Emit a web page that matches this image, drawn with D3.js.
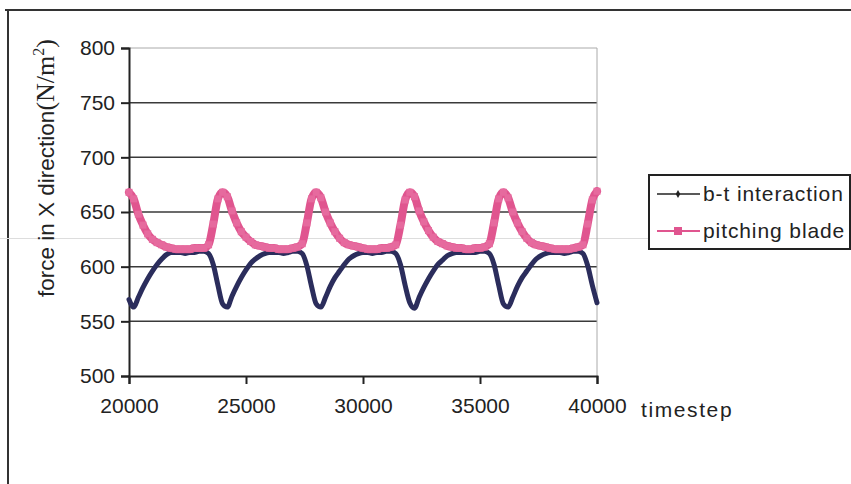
<!DOCTYPE html>
<html><head><meta charset="utf-8">
<script src="https://cdn.jsdelivr.net/npm/d3@7"></script>
<style>html,body{margin:0;padding:0;background:#fff;}svg{display:block;}</style>
</head><body>
<svg id="c" width="851" height="484"></svg>
<script>
const timesteps = [20000,20200,20400,20600,20800,21000,21200,21400,21600,21800,
22000,22200,22400,22600,22800,23000,23200,23400,23600,23800,
24000,24200,24400,24600,24800,25000,25200,25400,25600,25800,
26000,26200,26400,26600,26800,27000,27200,27400,27600,27800,
28000,28200,28400,28600,28800,29000,29200,29400,29600,29800,
30000,30200,30400,30600,30800,31000,31200,31400,31600,31800,
32000,32200,32400,32600,32800,33000,33200,33400,33600,33800,
34000,34200,34400,34600,34800,35000,35200,35400,35600,35800,
36000,36200,36400,36600,36800,37000,37200,37400,37600,37800,
38000,38200,38400,38600,38800,39000,39200,39400,39600,39800,40000];

const btInteraction = [570,563,572,581,589,596,602,607,611,613,613,613,612,613,613,614,614,612,602,583,
566,563,573,582,590,597,603,607,610,612,613,613,613,612,613,614,614,612,601,582,
566,563,572,582,590,596,602,607,610,612,613,613,612,613,613,614,614,612,602,583,
567,562,572,581,589,596,602,606,610,612,613,613,613,613,613,614,614,612,602,583,
566,563,572,582,590,596,602,607,610,612,613,613,613,612,613,614,614,612,601,583,
567];

const pitchingBlade = [668,662,648,638,630,625,622,620,618,617,616,616,616,616,617,617,617,620,639,662,
668,664,651,640,632,627,623,620,619,618,617,617,616,616,616,617,618,621,640,662,
668,663,650,640,632,626,622,620,619,618,617,616,616,616,617,617,618,620,638,661,
668,664,651,641,633,627,623,621,619,618,617,617,616,616,617,617,618,621,640,662,
668,663,650,640,632,626,622,620,619,618,617,616,616,616,616,617,618,620,639,661,
669];

const yTicks = [500,550,600,650,700,750,800];
const xTicks = [20000,25000,30000,35000,40000];
const seriesNames = ["b-t interaction","pitching blade"];
const seriesColors = ["#2b2d5c","#e0558f"];

const svg = d3.select("#c");
const x = d3.scaleLinear().domain([20000,40000]).range([129,597]);
const y = d3.scaleLinear().domain([500,800]).range([376,48]);
const font = "'Liberation Sans', Arial, sans-serif";
const serif = "'Liberation Serif','Times New Roman',serif";

// outer frame
svg.append("line").attr("x1",5).attr("x2",851).attr("y1",10).attr("y2",10).attr("stroke","#333").attr("stroke-width",2);
svg.append("line").attr("x1",8).attr("x2",8).attr("y1",10).attr("y2",484).attr("stroke","#333").attr("stroke-width",2);
// faint scan line
svg.append("line").attr("x1",0).attr("x2",851).attr("y1",238.5).attr("y2",238.5).attr("stroke","#ddd").attr("stroke-width",1);

// gridlines
svg.append("g").selectAll("line").data(yTicks.filter(d=>d>500 && d<800)).join("line")
  .attr("x1",129).attr("x2",597).attr("y1",d=>y(d)).attr("y2",d=>y(d))
  .attr("stroke","#3a3a3a").attr("stroke-width",1.5);
// plot area top/right border
svg.append("line").attr("x1",129).attr("x2",597).attr("y1",y(800)).attr("y2",y(800)).attr("stroke","#aaa").attr("stroke-width",1);
svg.append("line").attr("x1",597).attr("x2",597).attr("y1",y(800)).attr("y2",y(500)).attr("stroke","#aaa").attr("stroke-width",1);

// axes
const yAxis = d3.axisLeft(y).tickValues(yTicks).tickSize(8).tickPadding(6).tickFormat(d3.format("d"));
const gy = svg.append("g").attr("transform","translate(129,0)").call(yAxis);
gy.select(".domain").attr("stroke","#222").attr("stroke-width",2);
gy.selectAll(".tick line").attr("stroke","#222").attr("stroke-width",2);
gy.selectAll("text").attr("font-family",font).attr("font-size",21).attr("fill","#222");

const xAxis = d3.axisBottom(x).tickValues(xTicks).tickSize(8).tickPadding(14).tickFormat(d3.format("d"));
const gx = svg.append("g").attr("transform","translate(0,376)").call(xAxis);
gx.select(".domain").attr("stroke","#222").attr("stroke-width",2);
gx.selectAll(".tick line").attr("stroke","#222").attr("stroke-width",2);
gx.selectAll("text").attr("font-family",font).attr("font-size",21).attr("fill","#222");

svg.append("text").attr("x",641).attr("y",417).attr("font-family",font).attr("font-size",21)
  .attr("letter-spacing",1.6).attr("fill","#222").text("timestep");

// y title
const yt = svg.append("text").attr("transform","translate(54,168) rotate(-90)").attr("text-anchor","middle")
  .attr("font-family",font).attr("font-size",22.5).attr("fill","#222");
yt.append("tspan").text("force in X direction");
yt.append("tspan").attr("font-family",serif).attr("font-size",26).text("(N/m");
yt.append("tspan").attr("font-family",serif).attr("font-size",16).attr("dy",-10).text("2");
yt.append("tspan").attr("font-family",serif).attr("font-size",26).attr("dy",10).text(")");

// series
const blueData = timesteps.map((t,i)=>[t,btInteraction[i]]);
const pinkData = timesteps.map((t,i)=>[t,pitchingBlade[i]]);
const line = d3.line().x(d=>x(d[0])).y(d=>y(d[1])).curve(d3.curveMonotoneX);

svg.append("path").datum(blueData).attr("d",line).attr("fill","none").attr("stroke",seriesColors[0])
  .attr("stroke-width",5).attr("stroke-linejoin","round").attr("stroke-linecap","round");
svg.append("path").datum(pinkData).attr("d",line).attr("fill","none").attr("stroke",seriesColors[1])
  .attr("stroke-width",8).attr("stroke-linejoin","round").attr("stroke-linecap","round");
svg.append("g").selectAll("rect").data(pinkData).join("rect")
  .attr("x",d=>x(d[0])-3.5).attr("y",d=>y(d[1])-3.5).attr("width",7).attr("height",7)
  .attr("fill","#e66a9e");

// legend
const lg = svg.append("g");
lg.append("rect").attr("x",649).attr("y",175).attr("width",201).attr("height",74).attr("fill","#fff").attr("stroke","#222").attr("stroke-width",2);
const ly = [194,231];
lg.append("line").attr("x1",657).attr("x2",700).attr("y1",ly[0]).attr("y2",ly[0]).attr("stroke","#222").attr("stroke-width",1.5);
lg.append("path").attr("d",d3.symbol(d3.symbolDiamond,18)()).attr("transform",`translate(678,${ly[0]})`).attr("fill","#222");
lg.append("line").attr("x1",657).attr("x2",700).attr("y1",ly[1]).attr("y2",ly[1]).attr("stroke",seriesColors[1]).attr("stroke-width",2);
lg.append("rect").attr("x",674).attr("y",ly[1]-4).attr("width",8).attr("height",8).attr("fill",seriesColors[1]);
seriesNames.forEach((n,i)=>{
  lg.append("text").attr("x",703).attr("y",ly[i]+7).attr("font-family",font).attr("font-size",21)
    .attr("letter-spacing",0.9).attr("fill","#222").text(n);
});
</script>
</body></html>
